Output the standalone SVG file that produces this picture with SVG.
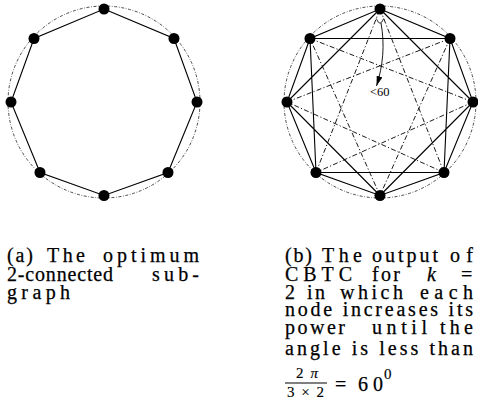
<svg xmlns="http://www.w3.org/2000/svg" width="478" height="414" viewBox="0 0 478 414">
<style>
.ring{fill:none;stroke:#000;stroke-width:0.7;stroke-dasharray:3 1.6 0.8 1.6}
.e{stroke:#000;stroke-width:1.1;fill:none}
.d{stroke:#000;stroke-width:0.9;fill:none;stroke-dasharray:5 2.2 1.2 2.2}
.n{fill:#000}
.cap text{font-family:"Liberation Serif","DejaVu Serif",serif;font-size:20px;fill:#000;stroke:#000;stroke-width:0.25}
.cap text.sm{font-size:15px;stroke-width:0.15}
.lbl{font-family:"Liberation Serif","DejaVu Serif",serif;font-size:12.5px;fill:#000}
</style>
<defs>
<marker id="ah" viewBox="0 0 10 6" refX="10" refY="3" markerWidth="10" markerHeight="6" markerUnits="userSpaceOnUse" orient="auto">
<path d="M0,0 L10,3 L0,6 Z" fill="#000"/>
</marker>
</defs>

<!-- Graph (a) -->
<g id="graph-a">
<circle class="ring" cx="104" cy="102" r="96"/>
<g id="edges-a">
<polygon class="e" points="104,9 174,38.5 197,102 168,172.5 104,195.5 40,172.5 11,102 34,38.5"/>
</g>
<g id="a-n0"><circle class="n" cx="104" cy="9" r="5.5"/></g>
<g id="a-n1"><circle class="n" cx="174" cy="38.5" r="5.5"/></g>
<g id="a-n2"><circle class="n" cx="197" cy="102" r="5.5"/></g>
<g id="a-n3"><circle class="n" cx="168" cy="172.5" r="5.5"/></g>
<g id="a-n4"><circle class="n" cx="104" cy="195.5" r="5.5"/></g>
<g id="a-n5"><circle class="n" cx="40" cy="172.5" r="5.5"/></g>
<g id="a-n6"><circle class="n" cx="11" cy="102" r="5.5"/></g>
<g id="a-n7"><circle class="n" cx="34" cy="38.5" r="5.5"/></g>
</g>

<!-- Graph (b) -->
<g id="graph-b">
<circle class="ring" cx="380" cy="102" r="96"/>
<g id="edges-b">
<polygon class="e" points="380,9 450,38.5 473,102 444,172.5 380,195.5 316,172.5 287,102 310,38.5"/>
<path class="e" d="M380,9 L473,102 M450,38.5 L444,172.5 M473,102 L380,195.5 M444,172.5 L316,172.5 M380,195.5 L287,102 M316,172.5 L310,38.5 M287,102 L380,9 M310,38.5 L450,38.5"/>
<path class="d" d="M380,9 L444,172.5 M450,38.5 L380,195.5 M473,102 L316,172.5 M444,172.5 L287,102 M380,195.5 L310,38.5 M316,172.5 L380,9 M287,102 L450,38.5 M310,38.5 L473,102"/>
<path fill="none" stroke="#000" stroke-width="0.8" d="M376.3,18.5 Q380,28 383.7,18.5"/>
<path fill="none" stroke="#000" stroke-width="0.9" d="M381,23 C385,45 383,66 376.5,86" marker-end="url(#ah)"/>
</g>
<text class="lbl" x="370" y="96">&lt;60</text>
<g id="b-n0"><circle class="n" cx="380" cy="9" r="5.5"/></g>
<g id="b-n1"><circle class="n" cx="450" cy="38.5" r="5.5"/></g>
<g id="b-n2"><circle class="n" cx="473" cy="102" r="5.5"/></g>
<g id="b-n3"><circle class="n" cx="444" cy="172.5" r="5.5"/></g>
<g id="b-n4"><circle class="n" cx="380" cy="195.5" r="5.5"/></g>
<g id="b-n5"><circle class="n" cx="316" cy="172.5" r="5.5"/></g>
<g id="b-n6"><circle class="n" cx="287" cy="102" r="5.5"/></g>
<g id="b-n7"><circle class="n" cx="310" cy="38.5" r="5.5"/></g>
</g>

<!-- Caption (a) -->
<g id="caption-a" class="cap">
<text x="7" y="262" textLength="26" lengthAdjust="spacing">(a)</text>
<text x="47" y="262" textLength="38" lengthAdjust="spacing">The</text>
<text x="103" y="262" textLength="96" lengthAdjust="spacing">optimum</text>
<text x="7" y="281" textLength="106" lengthAdjust="spacing">2-connected</text>
<text x="152" y="281" textLength="47" lengthAdjust="spacing">sub-</text>
<text x="7" y="299" textLength="63" lengthAdjust="spacing">graph</text>
</g>

<!-- Caption (b) -->
<g id="caption-b" class="cap">
<text x="285" y="262" textLength="27" lengthAdjust="spacing">(b)</text>
<text x="322" y="262" textLength="40" lengthAdjust="spacing">The</text>
<text x="372" y="262" textLength="66" lengthAdjust="spacing">output</text>
<text x="450" y="262" textLength="23" lengthAdjust="spacing">of</text>
<text x="285" y="281" textLength="67" lengthAdjust="spacing">CBTC</text>
<text x="372" y="281" textLength="28" lengthAdjust="spacing">for</text>
<text x="427" y="281" font-style="italic">k</text>
<text x="461" y="281">=</text>
<text x="285" y="299">2</text>
<text x="307" y="299" textLength="18" lengthAdjust="spacing">in</text>
<text x="340" y="299" textLength="63" lengthAdjust="spacing">which</text>
<text x="420" y="299" textLength="53" lengthAdjust="spacing">each</text>
<text x="285" y="316" textLength="188" lengthAdjust="spacing">node increases its</text>
<text x="285" y="334" textLength="60" lengthAdjust="spacing">power</text>
<text x="372" y="334" textLength="55" lengthAdjust="spacing">until</text>
<text x="440" y="334" textLength="33" lengthAdjust="spacing">the</text>
<text x="285" y="355" textLength="188" lengthAdjust="spacing">angle is less than</text>
<text class="sm" x="296" y="378" textLength="22" lengthAdjust="spacing">2<tspan font-style="italic">π</tspan></text>
<line x1="285" y1="383" x2="327" y2="383" stroke="#000" stroke-width="1"/>
<text class="sm" x="287" y="397" textLength="37" lengthAdjust="spacing">3×2</text>
<text x="335" y="391">=</text>
<text x="358" y="391" textLength="25" lengthAdjust="spacing">60</text>
<text class="sm" x="384" y="379">0</text>
</g>
</svg>
